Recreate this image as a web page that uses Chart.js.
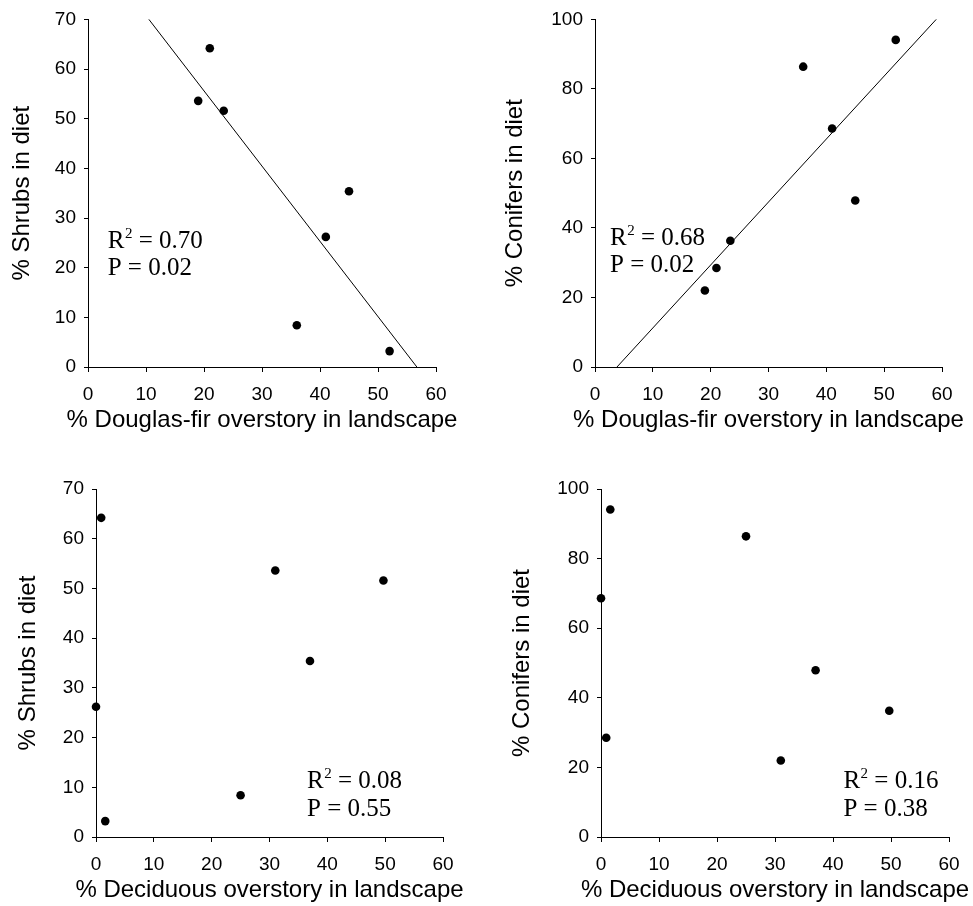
<!DOCTYPE html>
<html lang="en">
<head>
  <meta charset="UTF-8">
  <title>Diet composition vs. landscape overstory</title>
  <script src="https://cdn.jsdelivr.net/npm/chart.js"></script>
  <style>
    body {
      margin: 0;
      background: #fff;
    }
    canvas {
      position: absolute;
    }
  </style>
</head>
<body>
  <canvas id="shrubDf"></canvas>
  <canvas id="coniferDf"></canvas>
  <canvas id="shrubDec"></canvas>
  <canvas id="coniferDec"></canvas>

  <script>
    // one value per study site (same site order in every array)
    const douglasFir = [19, 21, 23.4, 36, 41, 45, 52];
    const deciduous  = [31, 0.9, 49.7, 25, 0, 37, 1.6];
    const shrubs     = [53.6, 64.2, 51.6, 8.4, 26.2, 35.4, 3.2];
    const conifers   = [22, 28.5, 36.3, 86.4, 68.6, 47.9, 94.1];

    // end points of the fitted regression lines
    const shrubFitX   = [10.5, 56.7];
    const shrubFitY   = [70, 0];
    const coniferFitX = [3.8, 59];
    const coniferFitY = [0, 100];

    // tick values
    const xTicks       = [0, 10, 20, 30, 40, 50, 60];
    const shrubTicks   = [0, 10, 20, 30, 40, 50, 60, 70];
    const coniferTicks = [0, 20, 40, 60, 80, 100];

    // R² and P for each panel
    const r2Values = ['0.70', '0.68', '0.08', '0.16'];
    const pValues  = ['0.02', '0.02', '0.55', '0.38'];

    const SANS = "'Liberation Sans', Arial, sans-serif";
    const SERIF = "'Liberation Serif', 'Times New Roman', serif";
    const X_AXIS_H = 40;
    const TITLE_SIZE = 24;

    // x axis title drawn by hand so it is not squeezed to the plot width
    const xTitlePlugin = {
      id: 'xTitle',
      afterDraw(chart, args, opts) {
        const { ctx, chartArea } = chart;
        ctx.save();
        ctx.font = TITLE_SIZE + 'px ' + SANS;
        ctx.fillStyle = '#000';
        ctx.textAlign = 'center';
        ctx.textBaseline = 'middle';
        ctx.fillText(opts.text, (chartArea.left + chartArea.right) / 2, chartArea.bottom + opts.offset);
        ctx.restore();
      }
    };

    // "R² = ..." / "P = ..." block
    const statsPlugin = {
      id: 'fitStats',
      afterDatasetsDraw(chart, args, opts) {
        const { ctx, scales } = chart;
        const px = scales.x.getPixelForValue(opts.x);
        const py = scales.y.getPixelForValue(opts.y);
        ctx.save();
        ctx.fillStyle = '#000';
        ctx.textAlign = 'left';
        ctx.textBaseline = 'alphabetic';
        ctx.font = '25px ' + SERIF;
        ctx.fillText('R', px, py);
        let w = ctx.measureText('R').width + 0.5;
        ctx.font = '15px ' + SERIF;
        ctx.fillText('2', px + w, py - 10);
        w += ctx.measureText('2').width;
        ctx.font = '25px ' + SERIF;
        ctx.fillText(' = ' + opts.r2, px + w, py);
        ctx.fillText('P = ' + opts.p, px, py + opts.gap);
        ctx.restore();
      }
    };

    function axisCommon(tickValues) {
      return {
        type: 'linear',
        min: tickValues[0],
        max: tickValues[tickValues.length - 1],
        border: { display: true, color: '#000', width: 1 },
        grid: { drawOnChartArea: false, drawTicks: true, color: '#000', lineWidth: 1 },
        ticks: {
          color: '#000',
          font: { family: SANS, size: 19 },
          autoSkip: false,
          maxRotation: 0
        },
        afterBuildTicks: s => { s.ticks = tickValues.map(v => ({ value: v })); }
      };
    }

    function makePanel(id, box, area, p) {
      const cv = document.getElementById(id);
      cv.width = box.w;
      cv.height = box.h;
      cv.style.left = box.x + 'px';
      cv.style.top = box.y + 'px';

      const datasets = [{
        data: p.xs.map((x, i) => ({ x, y: p.ys[i] })),
        backgroundColor: '#000',
        borderWidth: 0,
        pointRadius: 4.3,
        clip: false
      }];
      if (p.fitX) {
        datasets.push({
          data: p.fitX.map((x, i) => ({ x, y: p.fitY[i] })),
          showLine: true,
          borderColor: '#000',
          borderWidth: 1,
          pointRadius: 0,
          clip: false
        });
      }

      const xAxis = axisCommon(xTicks);
      xAxis.grid.tickLength = 5;
      xAxis.ticks.padding = 11;
      xAxis.afterFit = s => { s.height = X_AXIS_H; };

      // y scale keeps a fixed width so the plot box lands where we want it;
      // title centre = scale.left + lineHeight / 2 + padding.top
      const yWidth = area.l - box.x;
      const yAxis = axisCommon(p.yTicks);
      yAxis.grid.tickLength = 4;
      yAxis.ticks.padding = 8;
      yAxis.title = {
        display: true,
        text: p.yTitle,
        color: '#000',
        font: { family: SANS, size: TITLE_SIZE },
        padding: { top: p.yTitleX - TITLE_SIZE * 0.6, bottom: 0 }
      };
      yAxis.afterFit = s => { s.width = yWidth; };

      new Chart(cv, {
        type: 'scatter',
        data: { datasets },
        options: {
          responsive: false,
          animation: false,
          events: [],
          layout: {
            padding: {
              left: 0,
              top: area.t - box.y,
              right: box.x + box.w - area.r,
              bottom: box.y + box.h - area.b - X_AXIS_H
            }
          },
          scales: { x: xAxis, y: yAxis },
          plugins: {
            legend: { display: false },
            tooltip: { enabled: false },
            xTitle: { text: p.xTitle, offset: 53 },
            fitStats: p.stats
          }
        },
        plugins: [xTitlePlugin, statsPlugin]
      });
    }

    makePanel('shrubDf',
      { x: 0, y: 0, w: 486, h: 455 },
      { l: 88, t: 19, r: 436, b: 367 },
      {
        xs: douglasFir, ys: shrubs, fitX: shrubFitX, fitY: shrubFitY,
        yTicks: shrubTicks, yTitle: '% Shrubs in diet', yTitleX: 22,
        xTitle: '% Douglas-fir overstory in landscape',
        stats: { x: 3.4, y: 24, r2: r2Values[0], p: pValues[0], gap: 27 }
      });

    makePanel('coniferDf',
      { x: 486, y: 0, w: 487, h: 455 },
      { l: 595, t: 19, r: 942, b: 367 },
      {
        xs: douglasFir, ys: conifers, fitX: coniferFitX, fitY: coniferFitY,
        yTicks: coniferTicks, yTitle: '% Conifers in diet', yTitleX: 29,
        xTitle: '% Douglas-fir overstory in landscape',
        stats: { x: 2.6, y: 35.1, r2: r2Values[1], p: pValues[1], gap: 27 }
      });

    makePanel('shrubDec',
      { x: 0, y: 455, w: 486, h: 451 },
      { l: 96, t: 489, r: 443, b: 837 },
      {
        xs: deciduous, ys: shrubs,
        yTicks: shrubTicks, yTitle: '% Shrubs in diet', yTitleX: 28,
        xTitle: '% Deciduous overstory in landscape',
        stats: { x: 36.5, y: 9.9, r2: r2Values[2], p: pValues[2], gap: 28 }
      });

    makePanel('coniferDec',
      { x: 486, y: 455, w: 487, h: 451 },
      { l: 601, t: 489, r: 949, b: 837 },
      {
        xs: deciduous, ys: conifers,
        yTicks: coniferTicks, yTitle: '% Conifers in diet', yTitleX: 36,
        xTitle: '% Deciduous overstory in landscape',
        stats: { x: 41.8, y: 14.1, r2: r2Values[3], p: pValues[3], gap: 28 }
      });
  </script>
</body>
</html>
